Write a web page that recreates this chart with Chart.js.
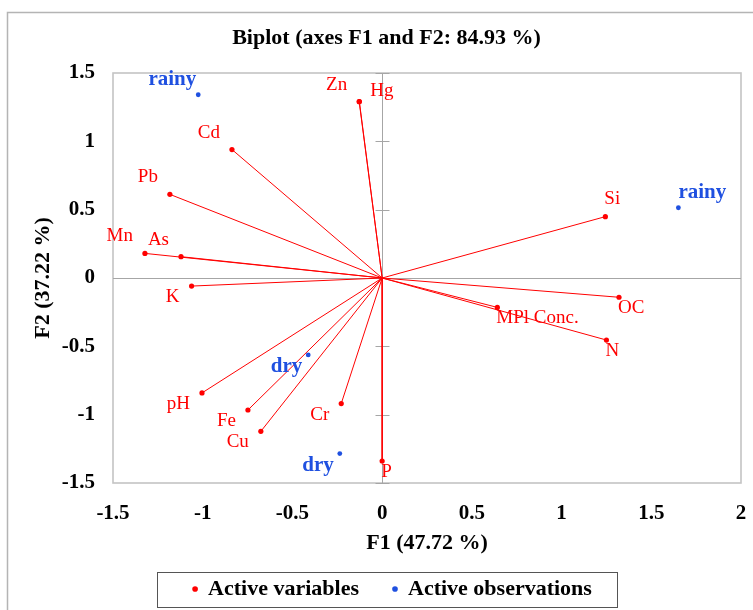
<!DOCTYPE html>
<html><head><meta charset="utf-8">
<script src="https://cdn.jsdelivr.net/npm/chart.js@4.4.1/dist/chart.umd.min.js"></script>
<style>html,body{margin:0;padding:0;background:#fff;} canvas{display:block;}</style>
</head><body>
<canvas id="c" width="753" height="610"></canvas>
<script>
// ---- data ----
const variableNames = ['Zn','Hg','Cd','Pb','Mn','As','K','pH','Fe','Cu','Cr','P','Si','OC','MPl Conc.','N'];
const variableF1 = [-0.128, -0.127, -0.837, -1.183, -1.322, -1.121, -1.062, -1.004, -0.748, -0.676, -0.228, 0.0, 1.244, 1.320, 0.642, 1.250];
const variableF2 = [1.29, 1.291, 0.94, 0.612, 0.18, 0.156, -0.059, -0.841, -0.966, -1.122, -0.919, -1.339, 0.449, -0.141, -0.215, -0.454];
const observationNames = ['rainy','rainy','dry','dry'];
const observationF1 = [-1.025, 1.651, -0.412, -0.236];
const observationF2 = [1.341, 0.514, -0.563, -1.285];
const xTickValues = [-1.5, -1, -0.5, 0, 0.5, 1, 1.5, 2];
const yTickValues = [-1.5, -1, -0.5, 0, 0.5, 1, 1.5];

// ---- label placement (style only) ----
const placements = {
  UL: {align:'right', dx:-12, dy:-17},
  UR: {align:'left', dx:-1, dy:-18},
  LL: {align:'right', dx:-12, dy:11},
  LR: {align:'left', dx:-1, dy:11},
  HG: {align:'left', dx:11, dy:-11},
  OUL: {align:'right', dx:-2, dy:-15},
  OUR: {align:'left', dx:0, dy:-15},
  OLL: {align:'right', dx:-6, dy:12}
};
const variablePlacement = ['UL','HG','UL','UL','UL','UL','LL','LL','LL','LL','LL','LR','UR','LR','LR','LR'];
const observationPlacement = ['OUL','OUR','OLL','OLL'];

const RED = '#ff0000';
const BLUE = '#1f50e0';
const FONT = 'Liberation Serif';

const datasets = [
  {
    label: 'Active variables',
    data: variableF1.map((x, i) => ({x: x, y: variableF2[i]})),
    backgroundColor: RED, borderColor: RED, pointRadius: 2.6, pointBorderWidth: 0,
    pointStyle: 'circle', showLine: false
  },
  {
    label: 'Active observations',
    data: observationF1.map((x, i) => ({x: x, y: observationF2[i]})),
    backgroundColor: BLUE, borderColor: BLUE, pointRadius: 2.4, pointBorderWidth: 0,
    pointStyle: 'circle', showLine: false
  }
];
variableF1.forEach((x, i) => {
  datasets.push({
    label: '',
    data: [{x: 0, y: 0}, {x: x, y: variableF2[i]}],
    showLine: true, borderColor: RED, borderWidth: 1, pointRadius: 0, pointHoverRadius: 0, fill: false
  });
});

const decor = {
  id: 'decor',
  afterLayout(chart) {
    // nudge legend to match reference placement
    chart.legend.left += 6; chart.legend.right += 6;
  },
  beforeDatasetsDraw(chart) {
    const ctx = chart.ctx, a = chart.chartArea;
    const xs = chart.scales.x, ys = chart.scales.y;
    ctx.save();
    ctx.strokeStyle = '#c4c4c4'; ctx.lineWidth = 1.6;
    ctx.strokeRect(a.left, a.top, a.right - a.left, a.bottom - a.top);
    const x0 = Math.round(xs.getPixelForValue(0)) + 0.5;
    const y0 = Math.round(ys.getPixelForValue(0)) + 0.5;
    ctx.strokeStyle = '#a6a6a6'; ctx.lineWidth = 1;
    ctx.beginPath();
    ctx.moveTo(a.left, y0); ctx.lineTo(a.right, y0);
    ctx.moveTo(x0, a.top); ctx.lineTo(x0, a.bottom);
    yTickValues.forEach(v => {
      const py = Math.round(ys.getPixelForValue(v)) + 0.5;
      ctx.moveTo(x0 - 7, py); ctx.lineTo(x0 + 7, py);
    });
    ctx.stroke();
    ctx.restore();
  },
  afterDatasetsDraw(chart) {
    const ctx = chart.ctx;
    ctx.save();
    ctx.textBaseline = 'middle';
    const m0 = chart.getDatasetMeta(0);
    ctx.font = '19px "' + FONT + '"';
    ctx.fillStyle = RED;
    variableNames.forEach((name, i) => {
      const el = m0.data[i];
      const p = placements[variablePlacement[i]];
      ctx.textAlign = p.align;
      ctx.fillText(name, el.x + p.dx, el.y + p.dy);
    });
    const m1 = chart.getDatasetMeta(1);
    ctx.font = 'bold 21px "' + FONT + '"';
    ctx.fillStyle = BLUE;
    observationNames.forEach((name, i) => {
      const el = m1.data[i];
      const p = placements[observationPlacement[i]];
      ctx.textAlign = p.align;
      ctx.fillText(name, el.x + p.dx, el.y + p.dy);
    });
    ctx.restore();
  },
  afterDraw(chart) {
    const ctx = chart.ctx;
    ctx.save();
    const hb = chart.legend.legendHitBoxes;
    if (hb && hb.length >= 2) {
      const left = hb[0].left - 36;
      const right = hb[1].left + hb[1].width + 25;
      const cy = hb[0].top + hb[0].height / 2;
      ctx.strokeStyle = '#555'; ctx.lineWidth = 1;
      ctx.strokeRect(Math.round(left) + 0.5, Math.round(cy - 17) + 0.5, Math.round(right - left), 35);
    }
    ctx.strokeStyle = '#b4b4b4'; ctx.lineWidth = 1.5;
    ctx.beginPath();
    ctx.moveTo(7.5, 610); ctx.lineTo(7.5, 12.5); ctx.lineTo(753, 12.5);
    ctx.stroke();
    ctx.restore();
  }
};

const tickFont = {family: FONT, size: 21, weight: 'bold'};
const titleFont = {family: FONT, size: 22, weight: 'bold'};

new Chart(document.getElementById('c'), {
  type: 'scatter',
  data: {datasets: datasets},
  options: {
    responsive: false, animation: false, devicePixelRatio: 1,
    layout: {padding: {left: 32, right: 12, top: 0, bottom: 0}},
    plugins: {
      title: {display: true, text: 'Biplot (axes F1 and F2: 84.93 %)', color: '#000',
        font: titleFont, padding: {top: 25, bottom: 21.6}},
      legend: {position: 'bottom',
        labels: {filter: item => item.datasetIndex < 2, usePointStyle: true, pointStyle: 'circle',
          boxWidth: 4, boxHeight: 4, padding: 34, color: '#000', font: titleFont}},
      tooltip: {enabled: false}
    },
    scales: {
      x: {type: 'linear', position: 'bottom', min: -1.5, max: 2,
        afterBuildTicks: s => { s.ticks = xTickValues.map(v => ({value: v})); },
        afterFit: s => { s.height = 61; },
        grid: {display: false, drawTicks: true, tickLength: 18}, border: {display: false},
        ticks: {padding: 0, color: '#000', font: tickFont, autoSkip: false, maxRotation: 0, callback: v => String(v)},
        title: {display: true, text: 'F1 (47.72 %)', color: '#000', font: titleFont, padding: {top: 0, bottom: -13}}},
      y: {type: 'linear', position: 'left', min: -1.5, max: 1.5,
        afterBuildTicks: s => { s.ticks = yTickValues.map(v => ({value: v})); },
        afterFit: s => { s.width = 81; },
        grid: {display: false, drawTicks: false}, border: {display: false},
        ticks: {padding: 18, color: '#000', font: tickFont, autoSkip: false, callback: v => String(v)},
        title: {display: true, text: 'F2 (37.22 %)', color: '#000', font: titleFont, padding: {top: -2, bottom: 0}}}
    }
  },
  plugins: [decor]
});
</script>
</body></html>
